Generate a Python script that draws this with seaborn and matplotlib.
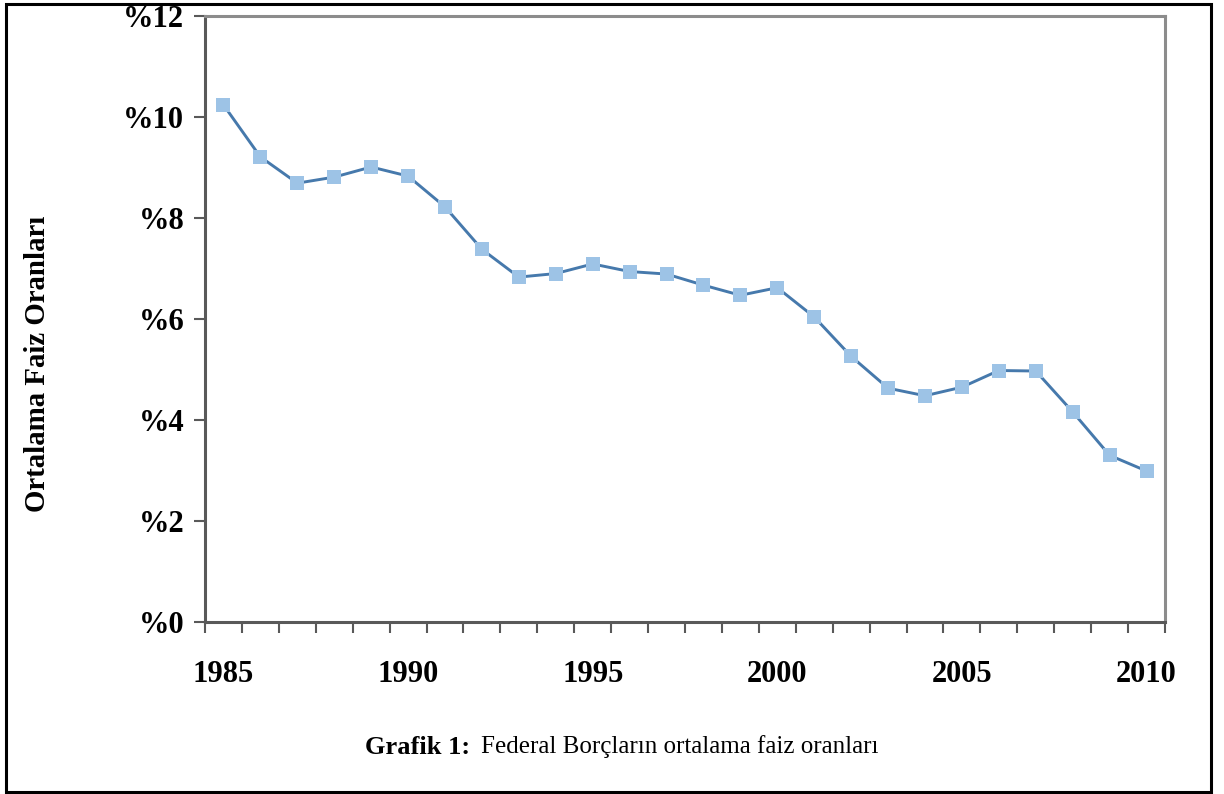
import numpy as np
import pandas as pd
import matplotlib
matplotlib.use("Agg")
import matplotlib.pyplot as plt
import matplotlib.patches as patches
import seaborn as sns

years = list(range(1985, 2011))
rates = [10.24, 9.21, 8.69, 8.81, 9.01, 8.83, 8.22, 7.38, 6.83, 6.90,
         7.09, 6.94, 6.89, 6.67, 6.47, 6.62, 6.04, 5.26, 4.63, 4.48,
         4.65, 4.98, 4.97, 4.16, 3.30, 2.99]
y_ticks = [0, 2, 4, 6, 8, 10, 12]
y_tick_labels = ["%0", "%2", "%4", "%6", "%8", "%10", "%12"]
x_label_years = [1985, 1990, 1995, 2000, 2005, 2010]
y_title = "Ortalama Faiz Oranları"
caption_bold = "Grafik 1:"
caption_rest = "Federal Borçların ortalama faiz oranları"

sns.set_style("white")
plt.rcParams['font.family'] = ['Liberation Serif', 'DejaVu Serif']
plt.rcParams['text.color'] = 'black'
plt.rcParams['xtick.labelcolor'] = 'black'
plt.rcParams['ytick.labelcolor'] = 'black'

df = pd.DataFrame({"year": years, "rate": rates})

W, H = 1224, 794
fig = plt.figure(figsize=(W / 100, H / 100), dpi=100)
ax = fig.add_axes([205 / W, 1 - 622 / H, (1165 - 205) / W, (622 - 16) / H])

sns.lineplot(data=df, x="year", y="rate", ax=ax, color="#4679ac", linewidth=2.1,
             marker="s", markersize=10.5, markerfacecolor="#9dc3e6",
             markeredgecolor="#9dc3e6", markeredgewidth=0)

ax.set_xlim(years[0] - 0.5, years[-1] + 0.5)
ax.set_ylim(0, 12)
ax.set_xlabel("")
ax.set_ylabel("")

ax.set_yticks(y_ticks)
ax.set_yticklabels(y_tick_labels, fontsize=22, fontweight="bold", color="black")
ax.tick_params(axis="y", direction="out", length=8, width=1.5, color="#595959",
               pad=7, left=True)

ax.set_xticks(x_label_years)
ax.set_xticklabels([str(y) for y in x_label_years], fontsize=22, fontweight="bold",
                   color="black")
ax.set_xticks(np.arange(years[0] - 0.5, years[-1] + 1.0, 1.0), minor=True)
ax.tick_params(axis="x", which="major", length=0, pad=27)
ax.tick_params(axis="x", which="minor", direction="out", length=8, width=1.5,
               color="#595959", bottom=True)

for side in ["left", "bottom"]:
    ax.spines[side].set_color("#595959")
    ax.spines[side].set_linewidth(2.2)
for side in ["top", "right"]:
    ax.spines[side].set_visible(True)
    ax.spines[side].set_color("#8c8c8c")
    ax.spines[side].set_linewidth(2.2)

fig.text(38 / W, 1 - 364 / H, y_title, rotation=90, ha="center", va="center",
         fontsize=20.8, fontweight="bold", color="black")

fig.text(470 / W, 1 - 747 / H, caption_bold, ha="right", va="center",
         fontsize=19, fontweight="bold", color="black")
fig.text(481 / W, 1 - 747 / H, caption_rest, ha="left", va="center",
         fontsize=18, color="black")

border = patches.Rectangle((6 / W, 2 / H), (1211 - 6) / W, (790 - 2) / H,
                           transform=fig.transFigure, fill=False,
                           edgecolor="black", linewidth=2.2)
fig.patches.append(border)

fig.savefig("out.png", dpi=100)
